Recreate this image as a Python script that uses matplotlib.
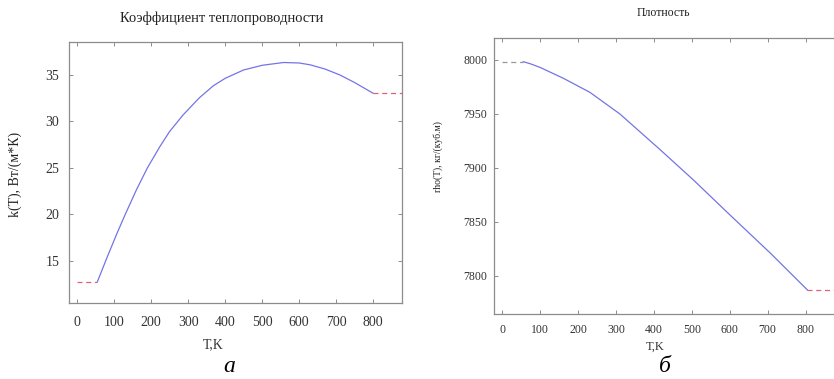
import matplotlib
matplotlib.use("Agg")
import matplotlib.pyplot as plt

# ---- data ----
# thermal conductivity k(T), W/(m*K)
k_T = [55, 80, 107, 130, 161, 190, 224, 250, 287, 330, 368, 400, 450, 500,
       558, 600, 630, 670, 711, 750, 800]
k_val = [12.8, 15.3, 17.9, 20.0, 22.7, 25.0, 27.3, 28.9, 30.7, 32.5, 33.8,
         34.6, 35.5, 36.0, 36.3, 36.25, 36.05, 35.6, 34.95, 34.15, 33.0]
k_low_T = [0, 55]
k_high_T = [800, 880]

# density rho(T), kg/m^3
rho_T = [55, 75, 100, 161, 231, 310, 416, 504, 601, 706, 805]
rho_val = [7998.4, 7996.3, 7993.0, 7983.0, 7970.0, 7950.0, 7917.0, 7888.9,
           7856.3, 7821.5, 7787.0]
rho_low_T = [0, 55]
rho_high_T = [805, 890]

x_ticks = [0, 100, 200, 300, 400, 500, 600, 700, 800]
k_ticks = [15, 20, 25, 30, 35]
rho_ticks = [7800, 7850, 7900, 7950, 8000]

plt.rcParams["font.family"] = ["Liberation Serif", "DejaVu Serif"]

BLUE = "#7474e6"
RED = "#e0607a"
GREY = "#999999"
SPINE = "#8c8c8c"
TXT = "#333333"

fig = plt.figure(figsize=(8.34, 3.79), dpi=100)


def style(ax, fs):
    for sp in ax.spines.values():
        sp.set_color(SPINE)
        sp.set_linewidth(0.9)
    ax.tick_params(direction="in", length=3, width=0.7, color=SPINE,
                   labelcolor=TXT, labelsize=fs, top=True, right=True)


# ---- panel a ----
ax1 = fig.add_axes([0.0827, 0.2005, 0.3993, 0.6887])
ax1.plot(k_T, k_val, color=BLUE, lw=0.9)
ax1.plot(k_low_T, [k_val[0]] * 2, color=RED, lw=0.9, dashes=(4, 3))
ax1.plot(k_high_T, [k_val[-1]] * 2, color=RED, lw=0.9, dashes=(4, 3))
ax1.set_xlim(-22, 878)
ax1.set_ylim(10.5, 38.5)
ax1.set_xticks(x_ticks)
ax1.set_yticks(k_ticks)
style(ax1, 10)
ax1.tick_params(axis="x", pad=9)
ax1.tick_params(axis="y", pad=7)

fig.text(222 / 834, 1 - 18 / 379, "Коэффициент теплопроводности", ha="center",
         va="center", fontsize=10.5, color="#222222")
fig.text(15 / 834, 1 - 174 / 379, "k(T), Вт/(м*К)", rotation=90, ha="center",
         va="center", fontsize=10, color="#222222")
fig.text(213 / 834, 1 - 345 / 379, "T,K", ha="center", va="center",
         fontsize=10, color=TXT)
fig.text(229 / 834, 1 - 367 / 379, "а", ha="center", va="center",
         fontsize=17, style="italic", color="black")

# ---- panel b ----
ax2 = fig.add_axes([0.5923, 0.1707, 0.41, 0.7282])
ax2.plot(rho_T, rho_val, color=BLUE, lw=0.9)
ax2.plot(rho_low_T, [rho_val[0]] * 2, color=GREY, lw=0.9, dashes=(4, 3))
ax2.plot(rho_high_T, [rho_val[-1]] * 2, color=RED, lw=0.9, dashes=(4, 3))
ax2.set_xlim(-22, 880)
ax2.set_ylim(7764.5, 8020)
ax2.set_xticks(x_ticks)
ax2.set_yticks(rho_ticks)
style(ax2, 8.5)
ax2.tick_params(right=False)
ax2.tick_params(axis="x", pad=7)
ax2.tick_params(axis="y", pad=5)

fig.text(663 / 834, 1 - 13 / 379, "Плотность", ha="center", va="center",
         fontsize=8.5, color="#222222")
fig.text(438 / 834, 1 - 157 / 379, "rho(T), кг/(куб.м)", rotation=90,
         ha="center", va="center", fontsize=7, color="#222222")
fig.text(655 / 834, 1 - 347 / 379, "T,K", ha="center", va="center",
         fontsize=9, color=TXT)
fig.text(665 / 834, 1 - 367 / 379, "б", ha="center", va="center",
         fontsize=17, style="italic", color="black")

fig.savefig("out.png", dpi=100)
